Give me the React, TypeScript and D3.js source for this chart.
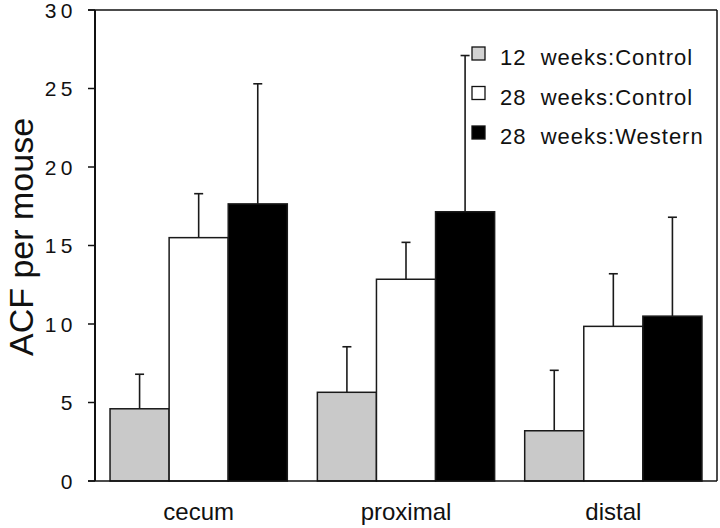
import React from "react";
import * as d3 from "d3";

const categories = ["cecum", "proximal", "distal"];
const seriesNames = ["12  weeks:Control", "28  weeks:Control", "28  weeks:Western"];
const control12 = [4.6, 5.65, 3.2];
const control12Err = [2.2, 2.9, 3.85];
const control28 = [15.5, 12.85, 9.85];
const control28Err = [2.8, 2.35, 3.35];
const western28 = [17.65, 17.15, 10.5];
const western28Err = [7.65, 9.95, 6.3];
const yTicks = [0, 5, 10, 15, 20, 25, 30];
const yLabel = "ACF per mouse";

const fills = ["#c9c9c9", "#ffffff", "#000000"];
const legendFills = ["#d2d2d2", "#ffffff", "#000000"];

export default function App() {
  const W = 720, H = 528;
  const left = 95, right = 717, top = 10, bottom = 481;
  const font = "'Liberation Sans', Arial, Helvetica, sans-serif";

  const y = d3.scaleLinear().domain([0, 30]).range([bottom, top]);
  const x0 = d3.scaleBand<string>().domain(categories).range([left, right]).paddingInner(0.145).paddingOuter(0.0725);
  const x1 = d3.scaleBand<string>().domain(["0", "1", "2"]).range([0, x0.bandwidth()]);

  const series = [
    { name: seriesNames[0], values: control12, errs: control12Err },
    { name: seriesNames[1], values: control28, errs: control28Err },
    { name: seriesNames[2], values: western28, errs: western28Err },
  ];

  return (
    <svg width={W} height={H} style={{ position: "absolute", left: 0, top: 0, background: "#fff" }} fontFamily={font}>
      <rect x={0} y={0} width={W} height={H} fill="#fff" />
      {/* bars */}
      {categories.map((c, ci) => (
        <g key={c} transform={`translate(${x0(c)},0)`}>
          {series.map((s, si) => {
            const bx = x1(String(si))!;
            const bw = x1.bandwidth();
            const v = s.values[ci];
            const e = s.errs[ci];
            const cx = bx + bw / 2;
            return (
              <g key={si}>
                <line x1={cx} x2={cx} y1={y(v)} y2={y(v + e)} stroke="#1a1a1a" strokeWidth={1.6} />
                <line x1={cx - 4.5} x2={cx + 4.5} y1={y(v + e)} y2={y(v + e)} stroke="#1a1a1a" strokeWidth={1.6} />
                <rect x={bx} y={y(v)} width={bw} height={y(0) - y(v)} fill={fills[si]} stroke="#1a1a1a" strokeWidth={1.5} />
              </g>
            );
          })}
        </g>
      ))}
      {/* frame */}
      <line x1={left} x2={left} y1={top} y2={bottom} stroke="#111" strokeWidth={2} />
      <line x1={left - 7} x2={right} y1={top} y2={top} stroke="#111" strokeWidth={1.5} />
      <line x1={right} x2={right} y1={top} y2={bottom} stroke="#111" strokeWidth={1.5} />
      <line x1={left - 7} x2={right} y1={bottom} y2={bottom} stroke="#111" strokeWidth={1.6} />
      {/* y ticks */}
      {yTicks.map((t) => (
        <g key={t}>
          <line x1={left - 7} x2={left} y1={y(t)} y2={y(t)} stroke="#111" strokeWidth={1.5} />
          <text x={77} y={y(t)} dy="0.36em" textAnchor="end" fontSize={21} letterSpacing={4.5} fill="#111">
            {t}
          </text>
        </g>
      ))}
      {/* x labels */}
      {categories.map((c) => (
        <text key={c} x={x0(c)! + x0.bandwidth() / 2} y={520} textAnchor="middle" fontSize={24} fill="#111">
          {c}
        </text>
      ))}
      {/* y label */}
      <text transform={`translate(33,237) rotate(-90)`} textAnchor="middle" fontSize={34} fill="#111">
        {yLabel}
      </text>
      {/* legend */}
      {series.map((s, i) => (
        <g key={s.name} transform={`translate(472,${47 + i * 39.5})`}>
          <rect x={0} y={0} width={13} height={13} fill={legendFills[i]} stroke="#111" strokeWidth={1.3} />
          <text x={28} y={18} fontSize={22} letterSpacing={1} fill="#111" style={{ whiteSpace: "pre" }}>
            {s.name}
          </text>
        </g>
      ))}
    </svg>
  );
}
